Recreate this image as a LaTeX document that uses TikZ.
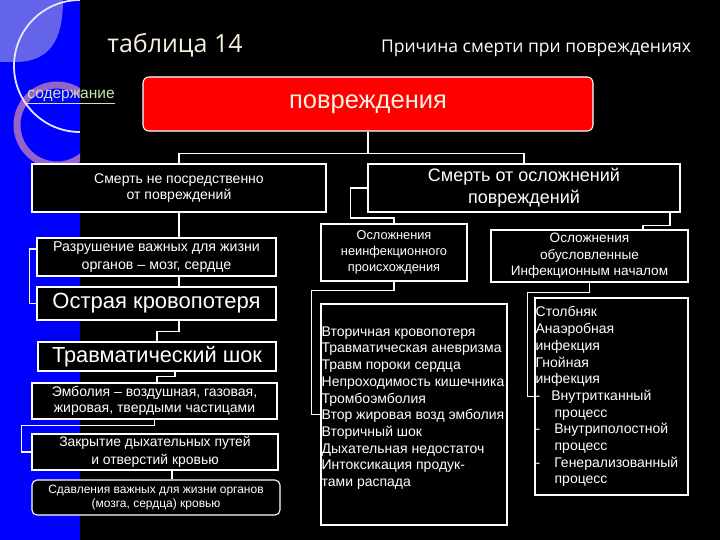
\documentclass[tikz,border=0pt]{standalone}
\usepackage{fontspec}
\setmainfont{Liberation Sans}
\newfontfamily\headfont{Open Sans}

\definecolor{stripblue}{RGB}{0,0,255}
\definecolor{paleblue}{RGB}{100,100,235}
\definecolor{ringmauve}{RGB}{150,100,200}
\definecolor{cream}{RGB}{248,240,225}
\definecolor{linkgreen}{RGB}{205,230,175}

\tikzset{
  box/.style={draw=white,line width=1.1pt,fill=black,text=white,inner sep=0pt,align=center},
  wire/.style={draw=white,line width=1.8pt},
  listtext/.style={text=white,inner sep=0pt,align=left,
    font=\fontsize{14}{16.7}\selectfont}
}

\begin{document}
\begin{tikzpicture}[x=1pt,y=-1pt]
\useasboundingbox (0,0) rectangle (720,540);
\fill[black] (0,0) rectangle (720,540);

% left decoration strip
\fill[stripblue] (0,0) rectangle (80,540);
\fill[paleblue] (0,0) -- (63,0) .. controls (63,40) and (50,62) .. (15,62) -- (0,62) -- cycle;
\begin{scope}
  \clip (0,0) rectangle (80,540);
  \draw[ringmauve,line width=7pt] (57,125) circle (40);
  \draw[white!90!blue,line width=1.8pt] (80,132) arc[start angle=90,end angle=270,radius=66];
\end{scope}

% titles
\node[text=cream,font=\headfont\fontsize{25}{28}\selectfont] (tabl) at (175,45) {таблица 14};
\node[text=white,font=\headfont\fontsize{17.5}{20}\selectfont] (cause) at (536,48) {Причина смерти при повреждениях};
\node[text=linkgreen,font=\fontsize{15.5}{17}\selectfont] (contents) at (71,97) {\underline{содержание}};

% top box
\node[box,fill=red,rounded corners=6pt,minimum width=450pt,minimum height=54pt,
  text=cream,font=\fontsize{25.5}{28}\selectfont] (top) at (368,104) {повреждения};

% second level
\node[box,minimum width=294pt,minimum height=48pt,font=\fontsize{14}{16}\selectfont]
  (lbox) at (179,188) {Смерть не посредственно\\от повреждений};
\node[box,minimum width=312pt,minimum height=48pt,font=\fontsize{18}{22}\selectfont]
  (rbox) at (524,188) {Смерть от осложнений\\повреждений};

% left column
\node[box,minimum width=239pt,minimum height=38pt,font=\fontsize{14.2}{18}\selectfont]
  (destr) at (156.5,257) {Разрушение важных для жизни\\органов -- мозг, сердце};
\node[box,minimum width=239pt,minimum height=33pt,font=\fontsize{22}{24}\selectfont]
  (blood) at (156.5,303.5) {Острая кровопотеря};
\node[box,minimum width=238pt,minimum height=29pt,font=\fontsize{21.8}{24}\selectfont]
  (shock) at (157,356.5) {Травматический шок};
\node[box,minimum width=245pt,minimum height=36pt,font=\fontsize{14}{16}\selectfont]
  (embol) at (154.5,401) {Эмболия -- воздушная, газовая,\\жировая, твердыми частицами};
\node[box,minimum width=246pt,minimum height=36pt,font=\fontsize{13.9}{18}\selectfont]
  (airway) at (155,452) {Закрытие дыхательных путей\\и отверстий кровью};
\node[box,rounded corners=5pt,minimum width=248pt,minimum height=35pt,font=\fontsize{12}{14.5}\selectfont]
  (compress) at (156,497.5) {Сдавления важных для жизни органов\\(мозга, сердца) кровью};

% right column
\node[box,minimum width=146pt,minimum height=57pt,font=\fontsize{12.8}{16}\selectfont]
  (noninf) at (394,252.5) {Осложнения\\неинфекционного\\происхождения};
\node[box,minimum width=197pt,minimum height=52pt,font=\fontsize{13.6}{16.5}\selectfont]
  (infect) at (589.5,256) {Осложнения\\обусловленные\\Инфекционным началом};
\node[box,minimum width=186pt,minimum height=221pt] (list1) at (414,414.5) {};
\node[box,minimum width=153pt,minimum height=197pt] (list2) at (611.5,396.5) {};

\node[listtext,anchor=north west] (list1txt) at ([xshift=1pt,yshift=-23pt]list1.north west)
  {Вторичная кровопотеря\\Травматическая аневризма\\Травм пороки сердца\\
   Непроходимость кишечника\\Тромбоэмболия\\Втор жировая возд эмболия\\
   Вторичный шок\\Дыхательная недостаточ\\Интоксикация продук-\\тами распада};
\node[listtext,anchor=north west] (list2txt) at ([xshift=1pt,yshift=-9pt]list2.north west)
  {Столбняк\\Анаэробная\\инфекция\\Гнойная\\инфекция\\
   -\hspace*{11pt}Внутритканный\\\hspace*{19pt}процесс\\
   -\hspace*{14pt}Внутриполостной\\\hspace*{19pt}процесс\\
   -\hspace*{14pt}Генерализованный\\\hspace*{19pt}процесс};

% connectors
\draw[wire] (top.south) -- ++(0,22) -| (lbox.north);
\draw[wire] (top.south) -- ++(0,22) -| (rbox.north);
\draw[wire] (lbox.south) -- (lbox.south |- destr.north);
\draw[wire] (lbox.south |- destr.south) -- (lbox.south |- blood.north);
\draw[wire] ([yshift=8pt]destr.west) -- ++(-7,0) |- (blood.west);
\draw[wire] (lbox.south |- blood.south) -- ++(0,11) -| (shock.north);
\draw[wire] ([xshift=18pt]shock.south) -- ++(0,5) -| (shock.south |- embol.north);
\draw[wire] (embol.south) -- ++(0,6) -| ([xshift=-10pt]airway.west) -- (airway.west);
\draw[wire] ([xshift=17pt]airway.south) -- ([xshift=17pt]airway.south |- compress.north);
\draw[wire] (rbox.west) -- ++(-17,0) -- ++(0,30) -| (noninf.north);
\draw[wire] ([xshift=146pt]rbox.south) -- ++(0,13) -| ([xshift=53.5pt]infect.north);
\draw[wire] (noninf.south) -- ++(0,9) -| ([xshift=-9pt]list1.west) -- (list1.west);
\draw[wire] (infect.south) -- ++(0,10) -| ([xshift=-7pt]list2.west) -- (list2.west);
\end{tikzpicture}
\end{document}
